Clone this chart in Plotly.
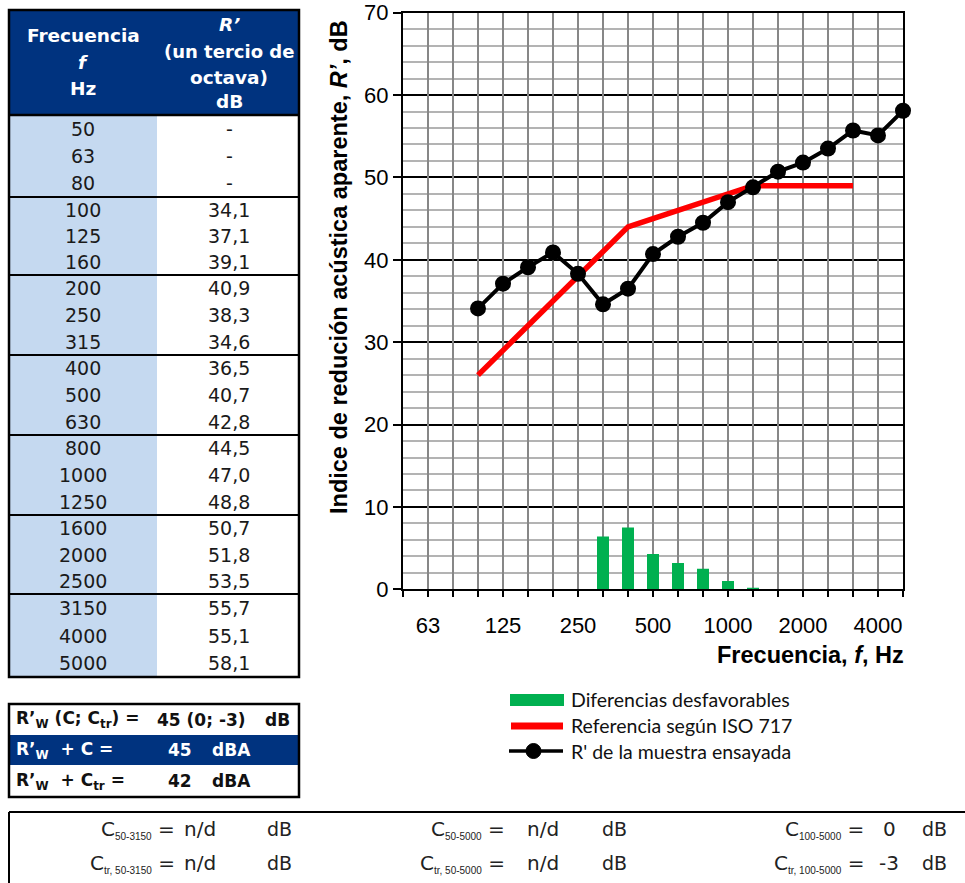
import plotly.graph_objects as go

# ---------------- data ----------------
freqs = ["50", "63", "80", "100", "125", "160", "200", "250", "315", "400", "500",
         "630", "800", "1000", "1250", "1600", "2000", "2500", "3150", "4000", "5000"]
r_prime = [None, None, None, 34.1, 37.1, 39.1, 40.9, 38.3, 34.6, 36.5, 40.7,
           42.8, 44.5, 47.0, 48.8, 50.7, 51.8, 53.5, 55.7, 55.1, 58.1]
ref_iso717 = [None, None, None, 26, 29, 32, 35, 38, 41, 44, 45,
              46, 47, 48, 49, 49, 49, 49, 49, None, None]
unfav_freqs = ["315", "400", "500", "630", "800", "1000", "1250"]
unfav_diff = [6.4, 7.5, 4.3, 3.2, 2.5, 1.0, 0.2]
x_tick_labels = ["63", "125", "250", "500", "1000", "2000", "4000"]

rw_rows = [("R’<sub>W</sub> (C; C<sub>tr</sub>) =", "45 (0; -3)", "dB"),
           ("R’<sub>W</sub>  + C =", "45", "dBA"),
           ("R’<sub>W</sub>  + C<sub>tr</sub> =", "42", "dBA")]
c_subs = [["50-3150", "50-5000", "100-5000"],
          ["tr, 50-3150", "tr, 50-5000", "tr, 100-5000"]]
c_values = [["n/d", "n/d", "0"], ["n/d", "n/d", "-3"]]

# ---------------- layout helpers ----------------
W, H = 965, 883
def px(x):
    return x / W
def py(y):
    return 1 - y / H

DARK_BLUE = "#00337f"
LIGHT_BLUE = "#c5d9f0"
TFONT = "DejaVu Sans"
CFONT = "Liberation Sans"

shapes = []
annotations = []

def rect(x0, y0, x1, y1, fill=None, line_color=None, lw=0):
    shapes.append(dict(type="rect", xref="paper", yref="paper",
                       x0=px(x0), x1=px(x1), y0=py(y1), y1=py(y0),
                       fillcolor=fill if fill else "rgba(0,0,0,0)",
                       line=dict(color=line_color if line_color else "rgba(0,0,0,0)", width=lw),
                       layer="above"))

def hline(x0, x1, y, color="black", lw=2):
    shapes.append(dict(type="line", xref="paper", yref="paper",
                       x0=px(x0), x1=px(x1), y0=py(y), y1=py(y),
                       line=dict(color=color, width=lw), layer="above"))

def vline(x, y0, y1, color="black", lw=2):
    shapes.append(dict(type="line", xref="paper", yref="paper",
                       x0=px(x), x1=px(x), y0=py(y0), y1=py(y1),
                       line=dict(color=color, width=lw), layer="above"))

def ann(x, y, text, size=18, color="#1a1a1a", xanchor="center", family=TFONT, angle=0):
    annotations.append(dict(x=px(x), y=py(y), xref="paper", yref="paper", text=text,
                            showarrow=False, xanchor=xanchor, yanchor="middle",
                            textangle=angle,
                            font=dict(family=family, size=size, color=color)))

# ---------------- left table ----------------
T_L, T_M, T_R = 9, 157, 299
T_TOP, T_HEAD = 10, 115
group_lines = [115, 197, 275, 355, 435, 515, 594, 677]

rect(T_L, T_HEAD, T_M, group_lines[-1], fill=LIGHT_BLUE)
rect(T_M, T_HEAD, T_R, group_lines[-1], fill="white")
rect(T_L, T_TOP, T_R, T_HEAD, fill=DARK_BLUE)

c1, c2 = 83, 229
ann(c1, 36, "<b>Frecuencia</b>", 18.5, "white")
ann(c1, 62, "<b><i>f</i></b>", 18.5, "white")
ann(c1, 88, "<b>Hz</b>", 18.5, "white")
ann(c2, 25, "<b><i>R’</i></b>", 18.5, "white")
ann(c2, 51, "<b>(un tercio de</b>", 18, "white")
ann(c2, 77, "<b>octava)</b>", 18.5, "white")
ann(c2, 102, "<b>dB</b>", 18.5, "white")

for i, f in enumerate(freqs):
    g, k = divmod(i, 3)
    top, bot = group_lines[g], group_lines[g + 1]
    yc = top + (k + 0.5) * (bot - top) / 3
    v = r_prime[i]
    txt = "-" if v is None else f"{v:.1f}".replace(".", ",")
    ann(c1, yc, f, 19)
    ann(c2, yc, txt, 19)

for yl in group_lines[1:-1]:
    hline(T_L, T_R, yl, lw=2)
hline(T_L, T_R, T_HEAD, lw=2.5)
rect(T_L, T_TOP, T_R, group_lines[-1], line_color="black", lw=2.5)

# ---------------- Rw box ----------------
B_TOP, B_R1, B_R2, B_BOT = 704, 735, 765, 797
rect(T_L, B_R1, T_R, B_R2, fill=DARK_BLUE)
rect(T_L, B_TOP, T_R, B_BOT, line_color="black", lw=2.5)
row_y = [719.5, 750, 781]
for j, (lab, val, unit) in enumerate(rw_rows):
    col = "white" if j == 1 else "#111111"
    ann(14, row_y[j], f"<b>{lab}</b>", 17, col, "left")
    ann(155 if j == 0 else 166, row_y[j], f"<b>{val}</b>", 17, col, "left")
    ann(263 if j == 0 else 210, row_y[j], f"<b>{unit}</b>", 17, col, "left")

# ---------------- bottom C box ----------------
hline(T_L, 966, 812, lw=2)
vline(T_L, 812, 884, lw=2)
lab_right = [177, 507, 866]
val_x = [200, 543, 889]
unit_x = [279, 614, 934]
SUB_STYLE = "font-size:10px;font-family:'Liberation Sans Narrow','Liberation Sans',sans-serif"
for r, yy in enumerate([829, 863]):
    for c in range(3):
        lab = f'C<sub><span style="{SUB_STYLE}">{c_subs[r][c]}</span></sub> ='
        ann(lab_right[c], yy, lab, 20, "#222222", "right")
        ann(val_x[c], yy, c_values[r][c], 20, "#222222", "center")
        ann(unit_x[c], yy, "dB", 19, "#222222", "center")

# ---------------- legend (manual) ----------------
rect(510, 694, 564, 706, fill="#00b050")
shapes.append(dict(type="line", xref="paper", yref="paper", x0=px(511), x1=px(563),
                   y0=py(726), y1=py(726), line=dict(color="#ff0000", width=7), layer="above"))
shapes.append(dict(type="line", xref="paper", yref="paper", x0=px(509), x1=px(563),
                   y0=py(751), y1=py(751), line=dict(color="black", width=3.5), layer="above"))
shapes.append(dict(type="circle", xref="paper", yref="paper", x0=px(526), x1=px(541),
                   y0=py(758.5), y1=py(743.5), fillcolor="black",
                   line=dict(color="black", width=1), layer="above"))
ann(569, 699, "Diferencias desfavorables", 19.5, "#111111", "left", "Lato")
ann(569, 725, "Referencia según ISO 717", 19.5, "#111111", "left", "Lato")
ann(569, 751, "R' de la muestra ensayada", 19.5, "#111111", "left", "Lato")

# ---------------- axis titles ----------------
ann(339, 267, "<b>Indice de redución acústica aparente, <i>R’</i>, dB</b>", 23.5, "black",
    "center", CFONT, -90)
annotations.append(dict(x=px(906), y=py(655), xref="paper", yref="paper",
                        text="<b>Frecuencia, <i>f</i>, Hz</b>", showarrow=False,
                        xanchor="right", yanchor="middle",
                        font=dict(family=CFONT, size=23.5, color="black")))

# ---------------- chart ----------------
fig = go.Figure()
fig.add_trace(go.Bar(x=unfav_freqs, y=unfav_diff, name="Diferencias desfavorables",
                     marker=dict(color="#00b050", line=dict(width=0)), width=0.48))
fig.add_trace(go.Scatter(x=freqs, y=ref_iso717, mode="lines", name="Referencia según ISO 717",
                         line=dict(color="#ff0000", width=5.5)))
fig.add_trace(go.Scatter(x=freqs, y=r_prime, mode="lines+markers",
                         name="R' de la muestra ensayada",
                         line=dict(color="black", width=4),
                         marker=dict(color="black", size=16, symbol="circle"),
                         cliponaxis=False))
# empty trace that only activates the grid/tick overlay axis (one tick per band)
fig.add_trace(go.Scatter(x=[], y=[], xaxis="x2", yaxis="y", showlegend=False,
                         hoverinfo="skip"))

n = len(freqs) - 1
fig.update_layout(
    width=W, height=H, autosize=False,
    margin=dict(l=0, r=0, t=0, b=0, pad=0, autoexpand=False),
    paper_bgcolor="white", plot_bgcolor="white",
    showlegend=False,
    shapes=shapes, annotations=annotations,
    xaxis=dict(domain=[px(403), px(903)], type="category", automargin=False,
               categoryorder="array", categoryarray=freqs,
               range=[0, n],
               tickvals=x_tick_labels, ticktext=x_tick_labels,
               showgrid=False, ticks="",
               showline=True, linecolor="black", linewidth=2, mirror=True,
               ticklabelstandoff=15,
               tickfont=dict(family=CFONT, size=22, color="black")),
    xaxis2=dict(overlaying="x", anchor="y", side="bottom", type="linear",
                range=[0, n], tick0=0, dtick=1, automargin=False,
                showgrid=True, gridcolor="#878787", gridwidth=2,
                showline=False, zeroline=False, showticklabels=False,
                ticks="outside", ticklen=7, tickwidth=2, tickcolor="black"),
    yaxis=dict(domain=[py(589.3), py(12.7)], range=[0, 70], dtick=10, tick0=0,
               automargin=False,
               showgrid=True, gridcolor="black", gridwidth=2, zeroline=False,
               showline=True, linecolor="black", linewidth=2, mirror=True,
               ticks="outside", ticklen=8, tickwidth=2, tickcolor="black",
               tickfont=dict(family=CFONT, size=22, color="black"),
               minor=dict(dtick=2, tick0=0, showgrid=True, gridcolor="#b3b3b3",
                          gridwidth=1.5, ticks="")),
    bargap=0.5,
)

fig.write_html("out.html", config={"displayModeBar": False},
               post_script="document.body.style.margin='0';document.body.style.overflow='hidden';")
